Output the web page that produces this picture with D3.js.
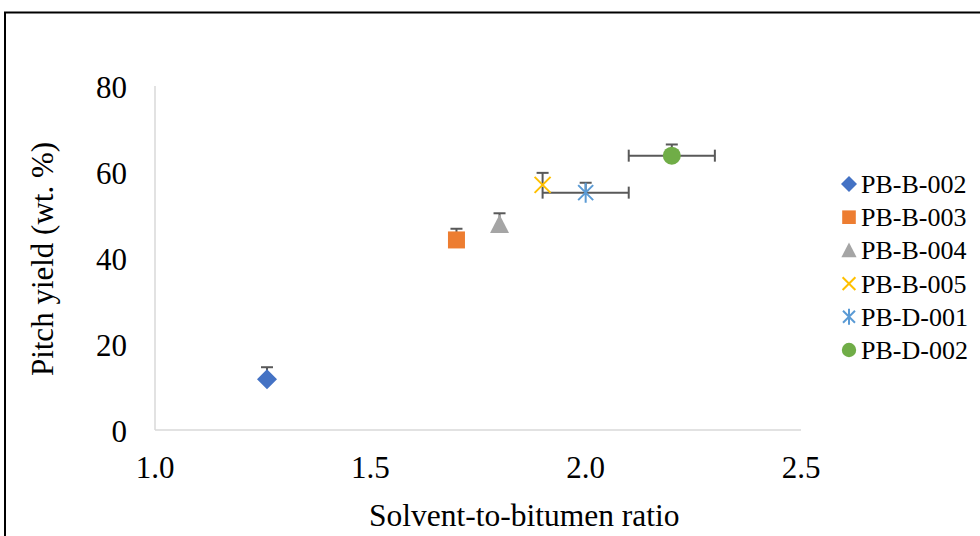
<!DOCTYPE html>
<html>
<head>
<meta charset="utf-8">
<script src="https://cdn.jsdelivr.net/npm/d3@7"></script>
<style>
  body { margin: 0; background: #fff; }
  text { font-family: "Liberation Serif", "Times New Roman", serif; fill: #000; }
</style>
</head>
<body>
<svg id="chart" width="980" height="536"></svg>
<script>
"use strict";
// data
var seriesNames = ["PB-B-002", "PB-B-003", "PB-B-004", "PB-B-005", "PB-D-001", "PB-D-002"];
var ratio = [1.26, 1.70, 1.80, 1.90, 2.00, 2.20];
var pitchYield = [11.8, 44.2, 47.8, 57.0, 55.2, 63.8];
var yErr = [2.8, 2.6, 2.6, 2.8, 2.3, 2.6];
var xErr = [0, 0, 0, 0, 0.1, 0.1];
var colors = ["#4472C4", "#ED7D31", "#A5A5A5", "#FFC000", "#5B9BD5", "#70AD47"];
var shapes = ["diamond", "square", "triangle", "x", "star", "circle"];
var xTicks = [1.0, 1.5, 2.0, 2.5];
var yTicks = [0, 20, 40, 60, 80];

var svg = d3.select("#chart");

// outer frame (runs off the right/bottom edge)
svg.append("rect")
  .attr("x", 5).attr("y", 12.5)
  .attr("width", 1000).attr("height", 600)
  .attr("fill", "none").attr("stroke", "#000").attr("stroke-width", 2);

var x = d3.scaleLinear().domain([1.0, 2.5]).range([155, 801]);
var y = d3.scaleLinear().domain([0, 80]).range([430, 86]);

// axis lines
svg.append("line")
  .attr("x1", x(1.0)).attr("x2", x(1.0))
  .attr("y1", y(80)).attr("y2", y(0))
  .attr("stroke", "#d9d9d9").attr("stroke-width", 1.5);
svg.append("line")
  .attr("x1", x(1.0)).attr("x2", x(2.5))
  .attr("y1", y(0)).attr("y2", y(0))
  .attr("stroke", "#d9d9d9").attr("stroke-width", 1.5);

// tick labels
svg.selectAll(".xtick").data(xTicks).enter().append("text")
  .attr("class", "xtick")
  .attr("x", function(d) { return x(d); })
  .attr("y", 478)
  .attr("text-anchor", "middle")
  .style("font-size", "31px")
  .text(function(d) { return d3.format(".1f")(d); });

svg.selectAll(".ytick").data(yTicks).enter().append("text")
  .attr("class", "ytick")
  .attr("x", 127)
  .attr("y", function(d) { return y(d) + 12; })
  .attr("text-anchor", "end")
  .style("font-size", "31px")
  .text(function(d) { return d; });

// axis titles
svg.append("text")
  .attr("x", 369).attr("y", 526)
  .attr("text-anchor", "start")
  .style("font-size", "31.5px")
  .text("Solvent-to-bitumen ratio");
svg.append("text")
  .attr("transform", "translate(53,259) rotate(-90)")
  .attr("text-anchor", "middle")
  .style("font-size", "31px")
  .text("Pitch yield (wt. %)");

// error bars
var errColor = "#595959", cap = 6;
var eb = svg.append("g").attr("stroke", errColor).attr("stroke-width", 2);
ratio.forEach(function(r, i) {
  var cx = x(r), cy = y(pitchYield[i]), top = y(pitchYield[i] + yErr[i]);
  eb.append("line").attr("x1", cx).attr("x2", cx).attr("y1", cy).attr("y2", top);
  eb.append("line").attr("x1", cx - cap).attr("x2", cx + cap).attr("y1", top).attr("y2", top);
  if (xErr[i] > 0) {
    var lx = x(r - xErr[i]), rx = x(r + xErr[i]);
    eb.append("line").attr("x1", lx).attr("x2", rx).attr("y1", cy).attr("y2", cy);
    eb.append("line").attr("x1", lx).attr("x2", lx).attr("y1", cy - cap).attr("y2", cy + cap);
    eb.append("line").attr("x1", rx).attr("x2", rx).attr("y1", cy - cap).attr("y2", cy + cap);
  }
});

// marker drawing
function drawMarker(g, shape, color, s) {
  var h = s / 2;
  if (shape === "diamond") {
    g.append("path").attr("d", "M0," + (-h) + "L" + h + ",0L0," + h + "L" + (-h) + ",0Z").attr("fill", color);
  } else if (shape === "square") {
    g.append("rect").attr("x", -h * 0.85).attr("y", -h * 0.85).attr("width", s * 0.85).attr("height", s * 0.85).attr("fill", color);
  } else if (shape === "triangle") {
    g.append("path").attr("d", "M0," + (-h) + "L" + h * 0.95 + "," + h * 0.85 + "L" + (-h * 0.95) + "," + h * 0.85 + "Z").attr("fill", color);
  } else if (shape === "x") {
    var k = h * 0.8;
    g.append("path").attr("d", "M" + (-k) + "," + (-k) + "L" + k + "," + k + "M" + k + "," + (-k) + "L" + (-k) + "," + k)
      .attr("stroke", color).attr("stroke-width", 2).attr("fill", "none");
  } else if (shape === "star") {
    var k2 = h * 0.75;
    g.append("path").attr("d", "M" + (-k2) + "," + (-k2) + "L" + k2 + "," + k2 + "M" + k2 + "," + (-k2) + "L" + (-k2) + "," + k2 + "M0," + (-h) + "L0," + h)
      .attr("stroke", color).attr("stroke-width", 2).attr("fill", "none");
  } else {
    g.append("circle").attr("r", h * 0.9).attr("fill", color);
  }
}

ratio.forEach(function(r, i) {
  var g = svg.append("g").attr("transform", "translate(" + x(r) + "," + y(pitchYield[i]) + ")");
  drawMarker(g, shapes[i], colors[i], 20);
});

// legend
var legend = svg.append("g").attr("transform", "translate(849,184)");
seriesNames.forEach(function(name, i) {
  var row = legend.append("g").attr("transform", "translate(0," + (i * 33.2) + ")");
  drawMarker(row, shapes[i], colors[i], 16);
  row.append("text")
    .attr("x", 12).attr("y", 9)
    .style("font-size", "26px")
    .text(name);
});
</script>
</body>
</html>
